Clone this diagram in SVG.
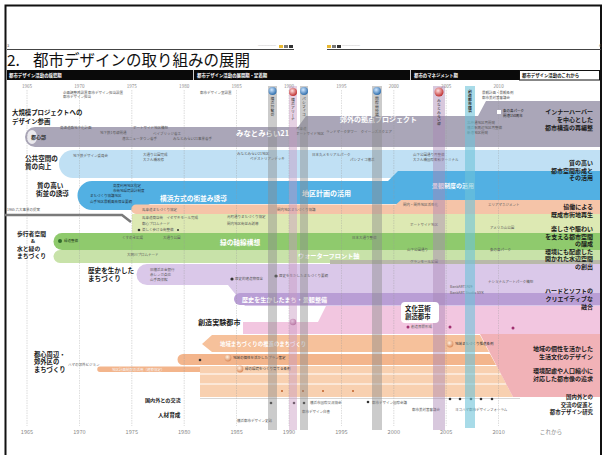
<svg xmlns="http://www.w3.org/2000/svg" width="607" height="455" viewBox="0 0 607 455">
<style>
text{font-family:"Noto Sans CJK JP","Noto Sans",sans-serif}
.yr{font-size:4.6px;fill:#8a8a8a;text-anchor:middle}
.yb{font-size:5.6px;fill:#8a8a8a;text-anchor:middle}
.hd{font-size:4.4px;fill:#fff;font-weight:bold}
.lb{font-size:6.6px;font-weight:bold;fill:#1a1a1a}
.rb{font-size:6px;font-weight:bold;fill:#1a1a1a;text-anchor:end}
.wt{fill:#fff;font-weight:bold}
.sm{font-size:3.5px;fill:#5a5a5a}
.sw{font-size:3.5px;fill:#f4f4f4}
.vt{font-size:3.8px;fill:#333;writing-mode:vertical-rl}
.grid{stroke:#9a9a9a;stroke-width:0.5;stroke-dasharray:1.5 1;opacity:0.7}
.col{fill:#8c8c8c;opacity:0.45}
.dot{fill:#333}
</style>
<defs>
<radialGradient id="gb" cx="40%" cy="35%" r="65%"><stop offset="0" stop-color="#cfe6ff"/><stop offset="1" stop-color="#2f6fae"/></radialGradient>
<radialGradient id="gr" cx="40%" cy="35%" r="65%"><stop offset="0" stop-color="#ffe0e0"/><stop offset="1" stop-color="#c03030"/></radialGradient>
<radialGradient id="gp" cx="40%" cy="35%" r="65%"><stop offset="0" stop-color="#fff0e0"/><stop offset="1" stop-color="#d98a5a"/></radialGradient>
<radialGradient id="gk" cx="40%" cy="35%" r="65%"><stop offset="0" stop-color="#f8e0f0"/><stop offset="1" stop-color="#b06090"/></radialGradient>
</defs>
<rect width="607" height="455" fill="#fff"/>
<g id="frame">
<path d="M5.5 455 V5.5 H601 V455" fill="none" stroke="#111" stroke-width="2"/>
</g>
<g id="page-header">
<text x="7" y="47" style="font-size:4px;fill:#555">3</text>
<text x="599" y="47" style="font-size:4px;fill:#555">4</text>
<line x1="7" y1="49.5" x2="294" y2="49.5" stroke="#444" stroke-width="1.2"/>
<line x1="327" y1="49.5" x2="601" y2="49.5" stroke="#444" stroke-width="1.2"/>
<text x="258" y="47" style="font-size:3px;fill:#bbb">━━━━━━</text>
<rect x="279" y="45" width="4" height="3" fill="#e8b830"/>
<rect x="284" y="45" width="4" height="3" fill="#777"/>
<rect x="289" y="45" width="4" height="3" fill="#333"/>
<rect x="327" y="45" width="4" height="3" fill="#e8b830"/>
<rect x="332" y="45" width="4" height="3" fill="#777"/>
<rect x="337" y="45" width="4" height="3" fill="#333"/>
<text x="342" y="47" style="font-size:3px;fill:#bbb">━━━━━━</text>
<text x="7" y="66" style="font-size:15.5px;fill:#111">2.</text>
<text x="33" y="66" style="font-size:15.5px;fill:#111">都市デザインの取り組みの展開</text>
</g>
<g id="period-bar">
<rect x="7" y="70" width="512" height="10" fill="#0a0a0a"/>
<line x1="193.5" y1="70" x2="193.5" y2="80" stroke="#fff" stroke-width="0.8"/>
<line x1="410.5" y1="70" x2="410.5" y2="80" stroke="#fff" stroke-width="0.8"/>
<rect x="519.5" y="70.5" width="80" height="9.5" fill="#fff" stroke="#111" stroke-width="1"/>
<text class="hd" x="9" y="76.8">都市デザイン活動の揺籃期</text>
<text class="hd" x="197" y="76.8">都市デザイン活動の展開期・定着期</text>
<text class="hd" x="414" y="76.8">都市のマネジメント期</text>
<text x="522" y="76.8" style="font-size:4.4px;fill:#111;font-weight:bold">都市デザイン活動のこれから</text>
<text class="yr" x="27" y="87.5">1965</text>
<text class="yr" x="79.4" y="87.5">1970</text>
<text class="yr" x="131.8" y="87.5">1975</text>
<text class="yr" x="184.2" y="87.5">1980</text>
<text class="yr" x="236.6" y="87.5">1985</text>
<text class="yr" x="289" y="87.5">1990</text>
<text class="yr" x="341.4" y="87.5">1995</text>
<text class="yr" x="393.8" y="87.5">2000</text>
<text class="yr" x="446.2" y="87.5">2005</text>
<text class="yr" x="498.6" y="87.5">2010</text>
</g>
<g id="band-project">
<path d="M35 127 H298 L306 116 H478 L486 101 H600 V147 H35 A10 10 0 0 1 35 127 Z" fill="#aaa6b8"/>
<ellipse cx="32" cy="137" rx="5" ry="7" fill="#fff" opacity="0.75"/>
<text x="31" y="139" style="font-size:5px;font-weight:bold;fill:#333">都心部</text>
<text class="wt" x="236" y="135.5" style="font-size:7.4px">みなとみらい21</text>
<text class="wt" x="340" y="122" style="font-size:7px">郊外の拠点プロジェクト</text>
</g>
<g id="band-public">
<path d="M73 150 H600 V178 H73 A14 14 0 0 1 73 150 Z" fill="#c0e0f4"/>
</g>
<g id="band-townscape">
<path d="M92 181 H388 L398 171 H600 V204 H150 L140 210 H92 A14.5 14.5 0 0 1 92 181 Z" fill="#52b0e3"/>
<text class="wt" x="160" y="201" style="font-size:6.7px">横浜方式の街並み誘導</text>
<text class="wt" x="302" y="196" style="font-size:7px">地区計画の活用</text>
<text class="wt" x="432" y="188" style="font-size:6px">景観制度の活用</text>
</g>
<g id="band-cooperation">
<path d="M136 204.5 H396 L401 200 H600 V223 H400 L396 214 H136 A4.75 4.75 0 0 1 136 204.5 Z" fill="#f5c4a8"/>
</g>
<g id="band-lively">
<path d="M132 214 H600 V240 H132 Z" fill="#dde9b3"/>
<polyline points="5,215 122,215 131,222" fill="none" stroke="#7a7a7a" stroke-width="2.5"/>
</g>
<g id="band-green">
<path d="M62 233 H600 V250 H62 A8.5 8.5 0 0 1 62 233 Z" fill="#8fca6d"/>
<path d="M60 250 H600 V263 H60 A6.5 6.5 0 0 1 60 250 Z" fill="#c8e2a9"/>
<rect x="330" y="260" width="270" height="5" fill="#b9b9aa"/>
<text class="wt" x="220" y="244.5" style="font-size:6.7px">緑の軸線構想</text>
<text class="wt" x="298" y="258" style="font-size:6.2px">ウォーターフロント軸</text>
</g>
<g id="band-history">
<path d="M147 264 H600 V306 H245 L228 285 H147 A10.5 10.5 0 0 1 147 264 Z" fill="#dac8e9"/>
<path d="M240 293 H600 V305 H240 A6 6 0 0 1 240 293 Z" fill="#b99ed5"/>
<text class="wt" x="242" y="301.5" style="font-size:6.1px">歴史を生かしたまち・景観整備</text>
</g>
<g id="band-creative">
<path d="M243 322 H318 L326 306 H600 V334 H243 Z" fill="#f2c6e0"/>
</g>
<g id="band-suburb">
<path d="M202 344 L212 335 H480 L489 352 H212 Z" fill="#f6c19b"/>
<path d="M183 354 H490 L496 365 H183 A5.5 5.5 0 0 1 183 354 Z" fill="#f3b58c"/>
<path d="M200 366 H497 L513 397 H200 Z" fill="#f8d0b0"/>
<line x1="200" y1="374" x2="501" y2="374" stroke="#fff" stroke-width="1.2"/>
<line x1="200" y1="384" x2="506" y2="384" stroke="#fff" stroke-width="1"/>
<path d="M100 366.5 H200 V372 H100 A2.75 2.75 0 0 1 100 366.5 Z" fill="#f3b58c"/>
<polygon points="480,334 600,334 600,397 513,397" fill="#f1b2b7"/>
<text class="wt" x="220" y="345.5" style="font-size:5.4px">地域まちづくりの推進のまちづくり</text>
<text class="sw" x="112" y="370.5">地区計画制度の活用（建築協定）</text>
</g>
<g id="grid">
<line class="grid" x1="27" y1="90" x2="27" y2="426"/>
<line class="grid" x1="79.4" y1="90" x2="79.4" y2="426"/>
<line class="grid" x1="131.8" y1="90" x2="131.8" y2="426"/>
<line class="grid" x1="184.2" y1="90" x2="184.2" y2="426"/>
<line class="grid" x1="236.6" y1="90" x2="236.6" y2="426"/>
<line class="grid" x1="289" y1="90" x2="289" y2="426"/>
<line class="grid" x1="341.4" y1="90" x2="341.4" y2="426"/>
<line class="grid" x1="393.8" y1="90" x2="393.8" y2="426"/>
<line class="grid" x1="446.2" y1="90" x2="446.2" y2="426"/>
<line class="grid" x1="498.6" y1="90" x2="498.6" y2="426"/>
<line x1="200" y1="398.5" x2="520" y2="398.5" stroke="#bbb" stroke-width="0.6"/>
</g>
<g id="small-labels">
<text class="sm" x="63" y="93.5">企画調整局設置</text>
<text class="sm" x="63" y="98">都市デザイン担当</text>
<text class="sm" x="88" y="93.5">都市デザイン担当設置</text>
<text class="sm" x="200" y="93.5">都市デザイン室設置</text>
<text class="sm" x="482" y="94">景観計画・景観条例</text>
<text class="sm" x="482" y="98.5">都市美対策審議会</text>
<text class="sm" x="60" y="129">高速道路地下化計画</text>
<text class="sm" x="100" y="134">地下鉄1号線開通</text>
<text class="sm" x="133" y="129">ポートサイド地区構想</text>
<text class="sm" x="153" y="134.5">ベイブリッジ着工</text>
<text class="sm" x="122" y="140">港北ニュータウン着手</text>
<text class="sm" x="173" y="140">みなとみらい21事業着手</text>
<text class="sm" x="296" y="130">汽車道</text>
<text class="sm" x="296" y="135">ポートサイド地区</text>
<text class="sm" x="326" y="133">ランドマークタワー　クイーンズスクエア</text>
<text class="sm" x="467" y="124">北仲通地区再開発</text>
<text class="sm" x="467" y="129">横浜駅周辺地区再整備</text>
<text class="sm" x="467" y="134">新港地区開発</text>
<rect x="497" y="110" width="4" height="4" fill="#fff"/>
<text class="sm" x="503" y="112" style="fill:#222">象の鼻パーク</text>
<text class="sm" x="503" y="117" style="fill:#222">開港150周年</text>
<text class="sm" x="73" y="157">地下鉄デザイン委員会</text>
<text class="sm" x="143" y="156">大通り公園完成</text>
<text class="sm" x="143" y="161">大さん橋改修</text>
<text class="sm" x="237" y="155">みなとみらい21地区</text>
<text class="sm" x="250" y="160">ペデストリアンデッキ</text>
<text class="sm" x="312" y="156">日本丸メモリアルパーク</text>
<text class="sm" x="350" y="161">パシフィコ横浜</text>
<text class="sm" x="413" y="156">山下公園通り再整備</text>
<text class="sm" x="413" y="161">大さん橋国際客船ターミナル</text>
<text class="sm" x="113" y="187" style="fill:#234">高度利用地区指定</text>
<text class="sm" x="113" y="192" style="fill:#234">市街地環境設計制度</text>
<text class="sm" x="90" y="197" style="fill:#234">まちづくり協議地区</text>
<text class="sm" x="90" y="203" style="fill:#234">山手地区景観風致保全要綱</text>
<text class="sm" x="142" y="211">馬車道まちづくり協定</text>
<text class="sm" x="277" y="211">関内地区まちづくり協議</text>
<text class="sm" x="403" y="206">関内・関外地区活性化</text>
<text class="sm" x="488" y="206">エリアマネジメント</text>
<text class="sm" x="7" y="211">1965 六大事業の提案</text>
<text class="sm" x="142" y="219">馬車道商店街　イセザキモール完成</text>
<text class="sm" x="142" y="224.5">都心プロムナード</text>
<text class="sm" x="142" y="231">楽しく歩ける街整備</text>
<circle class="dot" cx="139" cy="230" r="1.3"/>
<circle class="dot" cx="178" cy="230" r="1"/>
<text class="sm" x="227" y="218">元町通りまちづくり協定</text>
<text class="sm" x="227" y="225">関内地区街並み誘導</text>
<text class="sm" x="410" y="226">ポートサイド地区</text>
<text class="sm" x="490" y="229">アメリカ山公園</text>
<circle cx="60" cy="241" r="2" fill="#2f6a2a"/>
<text class="sm" x="64" y="242" style="fill:#1f3a1a">緑道整備</text>
<text class="sm" x="122" y="239">くすのき広場</text>
<text class="sm" x="163" y="239">大通り公園</text>
<text class="sm" x="352" y="239">日本大通り整備</text>
<text class="sm" x="127" y="256">大岡川プロムナード</text>
<text class="sm" x="407" y="251">山下公園通り</text>
<text class="sm" x="490" y="251">象の鼻パーク</text>
<text class="sm" x="410" y="263">グランモール公園</text>
<text class="sm" x="150" y="271">旧横浜正金銀行</text>
<text class="sm" x="150" y="276">赤レンガ倉庫</text>
<text class="sm" x="150" y="281">山手西洋館</text>
<circle class="dot" cx="232" cy="279" r="1.6"/>
<text class="sm" x="235" y="280">歴史的建造物保全</text>
<circle class="dot" cx="276" cy="276" r="1.6"/>
<text class="sm" x="279" y="277">歴史を生かしたまちづくり要綱</text>
<text class="sm" x="450" y="288">BankART1929</text>
<text class="sm" x="450" y="294">BankART Studio NYK</text>
<text class="sm" x="488" y="283">ナショナルアートパーク構想</text>
<circle cx="408" cy="327" r="1.5" fill="#a03070"/>
<circle cx="450" cy="327" r="1.5" fill="#a03070"/>
<circle cx="513" cy="328" r="1.5" fill="#a03070"/>
<text class="sm" x="411" y="328">創造界隈形成</text>
<circle cx="293" cy="322" r="3.2" fill="url(#gk)"/>
<circle cx="228" cy="358" r="3.4" fill="url(#gp)"/>
<text class="sm" x="233" y="359" style="fill:#333">地域の個性を活かしたプラン策定</text>
<circle cx="240" cy="369" r="3.4" fill="url(#gp)"/>
<text class="sm" x="245" y="370" style="fill:#333">緑の環境をつくり育てる条例</text>
<circle cx="450" cy="344" r="3.4" fill="url(#gp)"/>
<text class="sm" x="455" y="345" style="fill:#333">地域まちづくり推進条例</text>
<circle class="dot" cx="200" cy="360" r="1.3"/>
<text class="sm" x="68" y="366">ハマの郊外ビジョン</text>
<circle cx="282" cy="391" r="1" fill="#c0602a"/>
<circle cx="303" cy="391" r="1" fill="#c0602a"/>
<circle cx="323" cy="391" r="1" fill="#c0602a"/>
<circle cx="353" cy="391" r="1" fill="#c0602a"/>
<circle class="dot" cx="271" cy="403" r="1.3"/>
<circle class="dot" cx="294" cy="403" r="1.3"/>
<circle class="dot" cx="304" cy="403" r="1.3"/>
<circle class="dot" cx="368" cy="402" r="1.3"/>
<circle class="dot" cx="450" cy="399" r="1.3"/>
<circle class="dot" cx="460" cy="399" r="1.3"/>
<circle class="dot" cx="471" cy="399" r="1.3"/>
<circle class="dot" cx="481" cy="399" r="1.3"/>
<circle class="dot" cx="492" cy="399" r="1.3"/>
<text class="sm" x="310" y="404">横浜市国際交流協会</text>
<text class="sm" x="302" y="413">都市デザイン白書</text>
<text class="sm" x="372" y="404">都市デザイン国際会議</text>
<text class="sm" x="412" y="411">都市美対策審議会</text>
<text class="sm" x="455" y="411">ヨコハマ都市デザインフォーラム</text>
<text class="sm" x="237" y="422">横浜都市デザイン史誌</text>
</g>
<g id="columns">
<rect class="col" x="268" y="86" width="9" height="344"/>
<rect x="289" y="86" width="8" height="344" fill="#c89ac0" opacity="0.45"/>
<rect class="col" x="300" y="86" width="8" height="344"/>
<rect class="col" x="372" y="86" width="10" height="344"/>
<rect x="433" y="86" width="12" height="344" fill="#a886b4" opacity="0.45"/>
<rect x="465" y="86" width="10" height="342" fill="#6ec3d8" opacity="0.6"/>
<circle cx="272.5" cy="91" r="4" fill="url(#gb)"/>
<circle cx="293" cy="92" r="4" fill="url(#gr)"/>
<circle cx="304" cy="91" r="4" fill="url(#gb)"/>
<circle cx="377" cy="91" r="4" fill="url(#gb)"/>
<circle cx="439" cy="92" r="4.5" fill="url(#gr)"/>
<text class="vt" x="272.5" y="97">横浜博覧会</text>
<text class="vt" x="293" y="98">横浜アリーナ</text>
<text class="vt" x="304" y="97">パシフィコ</text>
<text class="vt" x="377" y="97">国際競技場</text>
<text class="vt" x="439" y="99">みなとみらい線</text>
<text class="vt" x="470" y="90" style="font-weight:bold">創造都市横浜</text>
</g>
<g id="left-labels">
<text class="lb" x="12" y="114.5" style="font-size:6.4px">大規模プロジェクトへの</text>
<text class="lb" x="12" y="123.5" style="font-size:6.4px">デザイン参画</text>
<text class="lb" x="25" y="160.5">公共空間の</text>
<text class="lb" x="25" y="169">質の向上</text>
<text class="lb" x="37" y="187.5">質の高い</text>
<text class="lb" x="36" y="196">街並の誘導</text>
<text class="lb" x="17" y="235.5" style="font-size:5.8px">歩行者空間</text>
<text class="lb" x="31" y="243" style="font-size:5.4px">&amp;</text>
<text class="lb" x="17" y="250.7" style="font-size:5.8px">水と緑の</text>
<text class="lb" x="17" y="258.4" style="font-size:5.8px">まちづくり</text>
<text class="lb" x="88" y="272.5">歴史を生かした</text>
<text class="lb" x="88" y="281">まちづくり</text>
<text class="lb" x="198" y="325" style="font-size:7.1px">創造実験都市</text>
<text class="lb" x="34" y="356.5" style="font-size:6.3px">都心周辺・</text>
<text class="lb" x="34" y="364.3" style="font-size:6.3px">郊外区の</text>
<text class="lb" x="34" y="372.1" style="font-size:6.3px">まちづくり</text>
<text class="lb" x="145" y="402" style="font-size:5.1px">国内外との交流</text>
<text class="lb" x="158" y="417" style="font-size:5.6px">人材育成</text>
</g>
<g id="right-labels">
<text class="rb" x="593" y="113.5">インナーハーバー</text>
<text class="rb" x="593" y="121.5">を中心とした</text>
<text class="rb" x="593" y="129.5">都市構造の再編整</text>
<text class="rb" x="593" y="165">質の高い</text>
<text class="rb" x="593" y="172.5">都市空間形成と</text>
<text class="rb" x="593" y="180">その活用</text>
<text class="rb" x="593" y="209">協働による</text>
<text class="rb" x="593" y="217">既成市街地再生</text>
<text class="rb" x="593" y="231">楽しさや賑わい</text>
<text class="rb" x="593" y="238.5">を支える都市空間</text>
<text class="rb" x="593" y="246">の醸成</text>
<text class="rb" x="593" y="253.5">環境にも配慮した</text>
<text class="rb" x="593" y="261">開かれた水辺空間</text>
<text class="rb" x="593" y="268.5">の創出</text>
<text class="rb" x="593" y="292.5">ハードとソフトの</text>
<text class="rb" x="593" y="300.5">クリエイティブな</text>
<text class="rb" x="593" y="308.5">融合</text>
<rect x="401" y="302" width="38" height="21" rx="4" fill="#fff"/>
<text class="lb" x="405" y="310.5" style="font-size:6.4px">文化芸術</text>
<text class="lb" x="405" y="319" style="font-size:6.4px">創造都市</text>
<text class="rb" x="593" y="351">地域の個性を活かした</text>
<text class="rb" x="593" y="358.5">生活文化のデザイン</text>
<text class="rb" x="593" y="373">環境配慮や人口縮小に</text>
<text class="rb" x="593" y="380.5">対応した都市像の追求</text>
<text class="rb" x="593" y="399" style="font-size:5.4px">国内外との</text>
<text class="rb" x="593" y="406.6" style="font-size:5.4px">交流の促進と</text>
<text class="rb" x="593" y="414.2" style="font-size:5.4px">都市デザイン研究</text>
</g>
<g id="bottom-years">
<text class="yb" x="27" y="434">1965</text>
<text class="yb" x="79.4" y="434">1970</text>
<text class="yb" x="131.8" y="434">1975</text>
<text class="yb" x="184.2" y="434">1980</text>
<text class="yb" x="236.6" y="434">1985</text>
<text class="yb" x="289" y="434">1990</text>
<text class="yb" x="341.4" y="434">1995</text>
<text class="yb" x="393.8" y="434">2000</text>
<text class="yb" x="446.2" y="434">2005</text>
<text class="yb" x="498.6" y="434">2010</text>
<text class="yb" x="551" y="434">これから</text>
</g>
</svg>
